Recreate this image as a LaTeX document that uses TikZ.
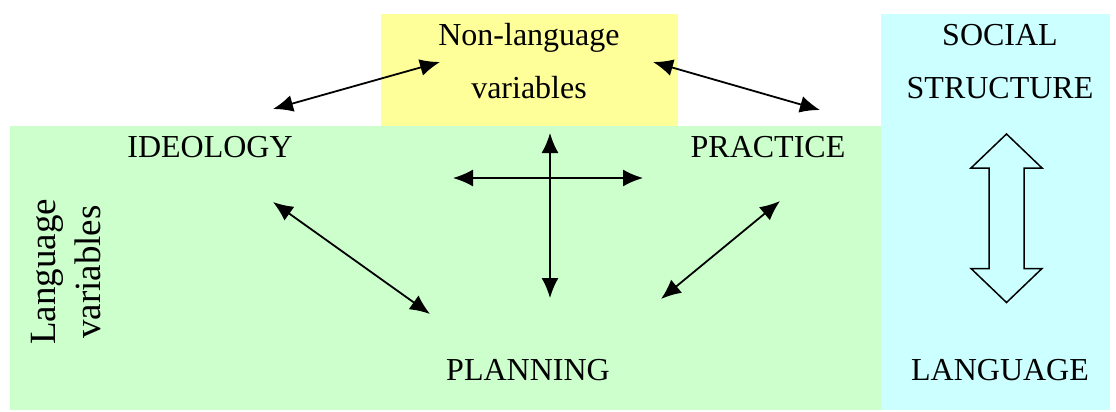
\documentclass[tikz,border=0pt]{standalone}
\usepackage{fontspec}
\setmainfont{Liberation Serif}
\usetikzlibrary{arrows.meta}
\definecolor{nlyellow}{HTML}{FFFF99}
\definecolor{lvgreen}{HTML}{CCFFCC}
\definecolor{sscyan}{HTML}{CCFFFF}

\begin{document}
\begin{tikzpicture}[
  x=1pt, y=-1pt,
  every node/.style={text=black,inner sep=0pt,font=\fontsize{32}{53}\selectfont},
  link/.style={{Latex[length=20pt,width=17pt]}-{Latex[length=20pt,width=17pt]},line width=1.8pt}
]
  \useasboundingbox (0,0) rectangle (1116,412);
  % coloured areas
  \fill[nlyellow] (381,14) rectangle (678,126);
  \fill[lvgreen] (10,126) rectangle (881,410);
  \fill[sscyan] (881,14) rectangle (1110,410);

  \node[align=center,anchor=north] (nl) at (529,23) {Non-language\\variables};
  \node[align=center,anchor=north] (ss) at (1000,24) {SOCIAL\\STRUCTURE};
  \node[anchor=base] (ideo) at (210,157) {IDEOLOGY};
  \node[anchor=base] (prac) at (768,157) {PRACTICE};
  \node[anchor=base] (plan) at (528,380) {PLANNING};
  \node[anchor=base] (lang) at (1000,380) {LANGUAGE};
  \node[align=center,rotate=90,font=\fontsize{37}{45}\selectfont] (lv) at (66,272)
    {Language\\variables};

  \coordinate (ideo-a) at (273,109);  \coordinate (nl-a) at (440,62);
  \coordinate (nl-b) at (653,62);     \coordinate (prac-a) at (820,110);
  \coordinate (nl-c) at (550,133);    \coordinate (plan-c) at (550,298);
  \coordinate (ideo-d) at (453,178);  \coordinate (prac-d) at (643,178);
  \coordinate (ideo-e) at (273,202);  \coordinate (plan-e) at (430,314);
  \coordinate (prac-f) at (780,201);  \coordinate (plan-f) at (661,299);

  \draw[link] (ideo-a) -- (nl-a);
  \draw[link] (nl-b) -- (prac-a);
  \draw[link] (nl-c) -- (plan-c);
  \draw[link] (ideo-d) -- (prac-d);
  \draw[link] (ideo-e) -- (plan-e);
  \draw[link] (prac-f) -- (plan-f);

  % hollow double arrow between social structure and language
  \draw[line width=1.5pt,line join=miter]
    (1006.5,134) -- (1042,168) -- (1024,168) -- (1024,268.5) -- (1042,268.5)
    -- (1006.5,302.5) -- (971,268.5) -- (989,268.5) -- (989,168) -- (971,168) -- cycle;
\end{tikzpicture}
\end{document}
